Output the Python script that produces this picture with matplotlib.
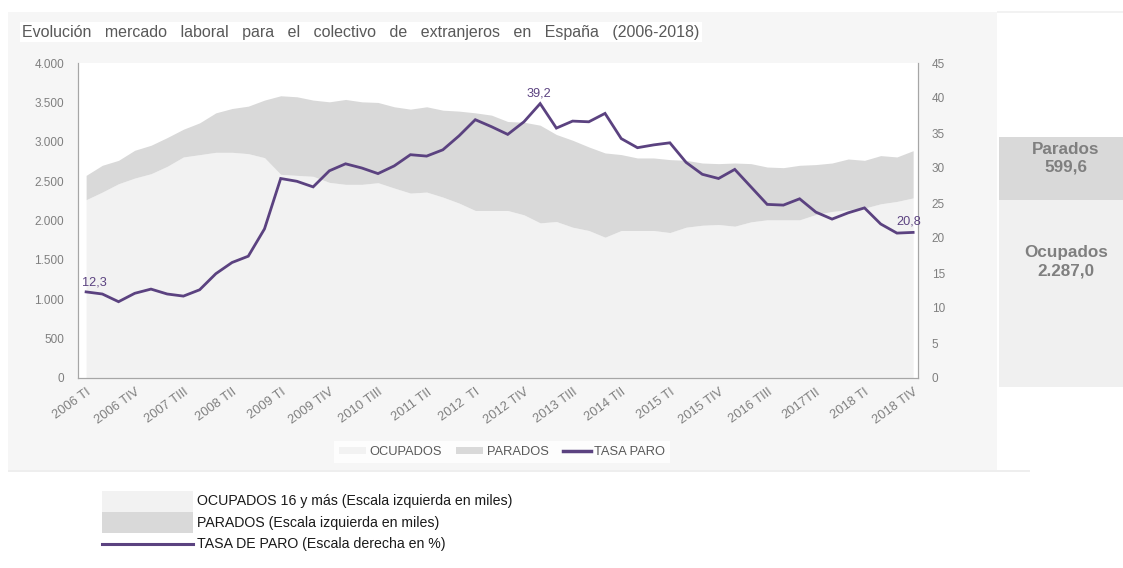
import matplotlib
matplotlib.use("Agg")
import matplotlib.pyplot as plt
from matplotlib.lines import Line2D
from matplotlib.patches import Patch, Rectangle

plt.rcParams["font.family"] = ["Liberation Sans", "DejaVu Sans"]

# quarters 2006 TI .. 2018 TIV
QUARTERS = [f"{y} T{q}" for y in range(2006, 2019) for q in ["I", "II", "III", "IV"]]

OCUPADOS = [2264, 2361, 2467, 2539, 2594, 2688, 2807, 2836, 2866, 2866, 2849, 2798,
            2586, 2573, 2561, 2484, 2459, 2459, 2480, 2412, 2348, 2361, 2297, 2221,
            2127, 2127, 2127, 2072, 1970, 1987, 1915, 1873, 1788, 1873, 1873, 1873,
            1847, 1915, 1940, 1949, 1928, 1983, 2009, 2009, 2009, 2076, 2115, 2136,
            2157, 2212, 2242, 2287.0]
PARADOS = [309, 340, 297, 353, 361, 365, 352, 404, 501, 556, 603, 731,
           998, 998, 968, 1023, 1078, 1048, 1019, 1032, 1066, 1083, 1104, 1168,
           1240, 1211, 1130, 1176, 1240, 1105, 1104, 1061, 1070, 964, 921, 921,
           926, 849, 790, 773, 802, 739, 670, 662, 692, 634, 615, 645,
           607, 612, 565, 599.6]
TASA_PARO = [12.3, 12.0, 10.9, 12.1, 12.7, 12.0, 11.7, 12.6, 14.9, 16.5, 17.4, 21.3,
             28.5, 28.1, 27.3, 29.6, 30.6, 30.0, 29.2, 30.3, 31.9, 31.7, 32.6, 34.6,
             36.9, 35.9, 34.8, 36.6, 39.2, 35.7, 36.7, 36.6, 37.8, 34.2, 32.9, 33.3,
             33.6, 30.8, 29.1, 28.5, 29.8, 27.3, 24.8, 24.7, 25.6, 23.7, 22.7, 23.6,
             24.3, 22.0, 20.7, 20.8]

TICK_LABELS = ["2006 TI", "2006 TIV", "2007 TIII", "2008 TII", "2009 TI", "2009 TIV",
               "2010 TIII", "2011 TII", "2012  TI", "2012 TIV", "2013 TIII", "2014 TII",
               "2015 TI", "2015 TIV", "2016 TIII", "2017TII", "2018 TI", "2018 TIV"]
# point labels: index -> (dx, dy) offset in points
LABELLED = {0: (-3, 7, "left"), 28: (-1, 7, "center"), 51: (-3, 8, "center")}

C_OCU = "#f2f2f2"
C_PAR = "#d9d9d9"
C_LINE = "#5b4280"
C_TXT = "#7f7f7f"

W, H = 1123, 568
fig = plt.figure(figsize=(W / 100, H / 100), dpi=100)
fig.patch.set_facecolor("white")


def px_rect(x0, y0, x1, y1, **kw):
    r = Rectangle((x0 / W, 1 - y1 / H), (x1 - x0) / W, (y1 - y0) / H,
                  transform=fig.transFigure, **kw)
    fig.add_artist(r)
    return r


# background panels
px_rect(8, 12, 997, 470, facecolor="#f6f6f6", edgecolor="none", zorder=0)
px_rect(997, 11, 1123, 13, facecolor="#f2f2f2", edgecolor="none", zorder=0)
px_rect(8, 470, 1030, 472, facecolor="#eeeeee", edgecolor="none", zorder=0)

ax = fig.add_axes([78 / W, 1 - 378 / H, 840 / W, 315 / H])
ax.set_facecolor("white")
x = list(range(len(QUARTERS)))
total = [o + p for o, p in zip(OCUPADOS, PARADOS)]
ax.fill_between(x, 0, OCUPADOS, color=C_OCU, linewidth=0, label="OCUPADOS")
ax.fill_between(x, OCUPADOS, total, color=C_PAR, linewidth=0, label="PARADOS")
ax.set_xlim(-0.5, 51.3)
ax.set_ylim(0, 4000)
ax.set_yticks(range(0, 4001, 500))
ax.set_yticklabels([f"{v:,}".replace(",", ".") for v in range(0, 4001, 500)])
ax.set_xticks(x[::3])
ax.set_xticklabels(TICK_LABELS, rotation=36, ha="right", va="top",
                   rotation_mode="anchor")

ax2 = ax.twinx()
ax2.plot(x, TASA_PARO, color=C_LINE, linewidth=2.0, solid_joinstyle="miter")
ax2.set_ylim(0, 45)
ax2.set_yticks(range(0, 46, 5))
for i, (dx, dy, ha) in LABELLED.items():
    ax2.annotate(f"{TASA_PARO[i]:.1f}".replace(".", ","), (x[i], TASA_PARO[i]),
                 xytext=(dx, dy), textcoords="offset points", ha=ha,
                 va="center", fontsize=9.2, color=C_LINE)

for a in (ax, ax2):
    for s in a.spines.values():
        s.set_color("#a6a6a6")
    a.spines["top"].set_visible(False)
    a.tick_params(axis="y", length=0, labelsize=8.5, labelcolor=C_TXT, pad=10)
ax.tick_params(axis="x", length=0, labelsize=9.3, labelcolor=C_TXT, pad=6)

handles = [Patch(facecolor=C_OCU, edgecolor="none", label="OCUPADOS"),
           Patch(facecolor=C_PAR, edgecolor="none", label="PARADOS"),
           Line2D([], [], color=C_LINE, linewidth=2.5, label="TASA PARO")]
leg = fig.legend(handles=handles, loc="center", bbox_to_anchor=(502 / W, 1 - 452 / H),
                 ncol=3, frameon=True, fontsize=9.3, handlelength=2.1, handleheight=0.5,
                 handletextpad=0.3, columnspacing=1.1, borderpad=0.35)
leg.get_frame().set_facecolor("white")
leg.get_frame().set_edgecolor("none")
leg.get_frame().set_boxstyle("square", pad=0)
for t in leg.get_texts():
    t.set_color("#595959")

fig.text(22 / W, 1 - 32 / H,
         "Evolución   mercado   laboral   para   el   colectivo   de   extranjeros"
         "   en   España   (2006-2018)",
         fontsize=11.5, color="#595959", va="center", ha="left",
         bbox=dict(facecolor="white", edgecolor="none", boxstyle="square,pad=0.15"))

# right summary boxes with last quarter values
px_rect(999, 137, 1123, 200, facecolor="#d9d9d9", edgecolor="none")
px_rect(999, 200, 1123, 387, facecolor="#f0f0f0", edgecolor="none")
fig.text(1066 / W, 1 - 158 / H, f"Parados\n{PARADOS[-1]:.1f}".replace(".", ","),
         ha="center", va="center", fontsize=12.3, fontweight="bold", color=C_TXT,
         linespacing=1.25)
ocu_last = f"{OCUPADOS[-1]:,.1f}".replace(",", "X").replace(".", ",").replace("X", ".")
fig.text(1066 / W, 1 - 262 / H, f"Ocupados\n{ocu_last}",
         ha="center", va="center", fontsize=12.3, fontweight="bold", color=C_TXT,
         linespacing=1.25)

# bottom legend
px_rect(102, 491, 193, 512, facecolor=C_OCU, edgecolor="none")
px_rect(102, 512, 193, 533, facecolor=C_PAR, edgecolor="none")
fig.add_artist(Line2D([102 / W, 193 / W], [1 - 544 / H, 1 - 544 / H],
                      transform=fig.transFigure, color=C_LINE, linewidth=2.2))
bottom_texts = ["OCUPADOS 16 y más (Escala izquierda en miles)",
                "PARADOS (Escala izquierda en miles)",
                "TASA DE PARO (Escala derecha en %)"]
for t, yy in zip(bottom_texts, [501, 523, 544]):
    fig.text(197 / W, 1 - yy / H, t, fontsize=10.2, color="#1a1a1a", va="center")

fig.savefig("out.png", dpi=100)
